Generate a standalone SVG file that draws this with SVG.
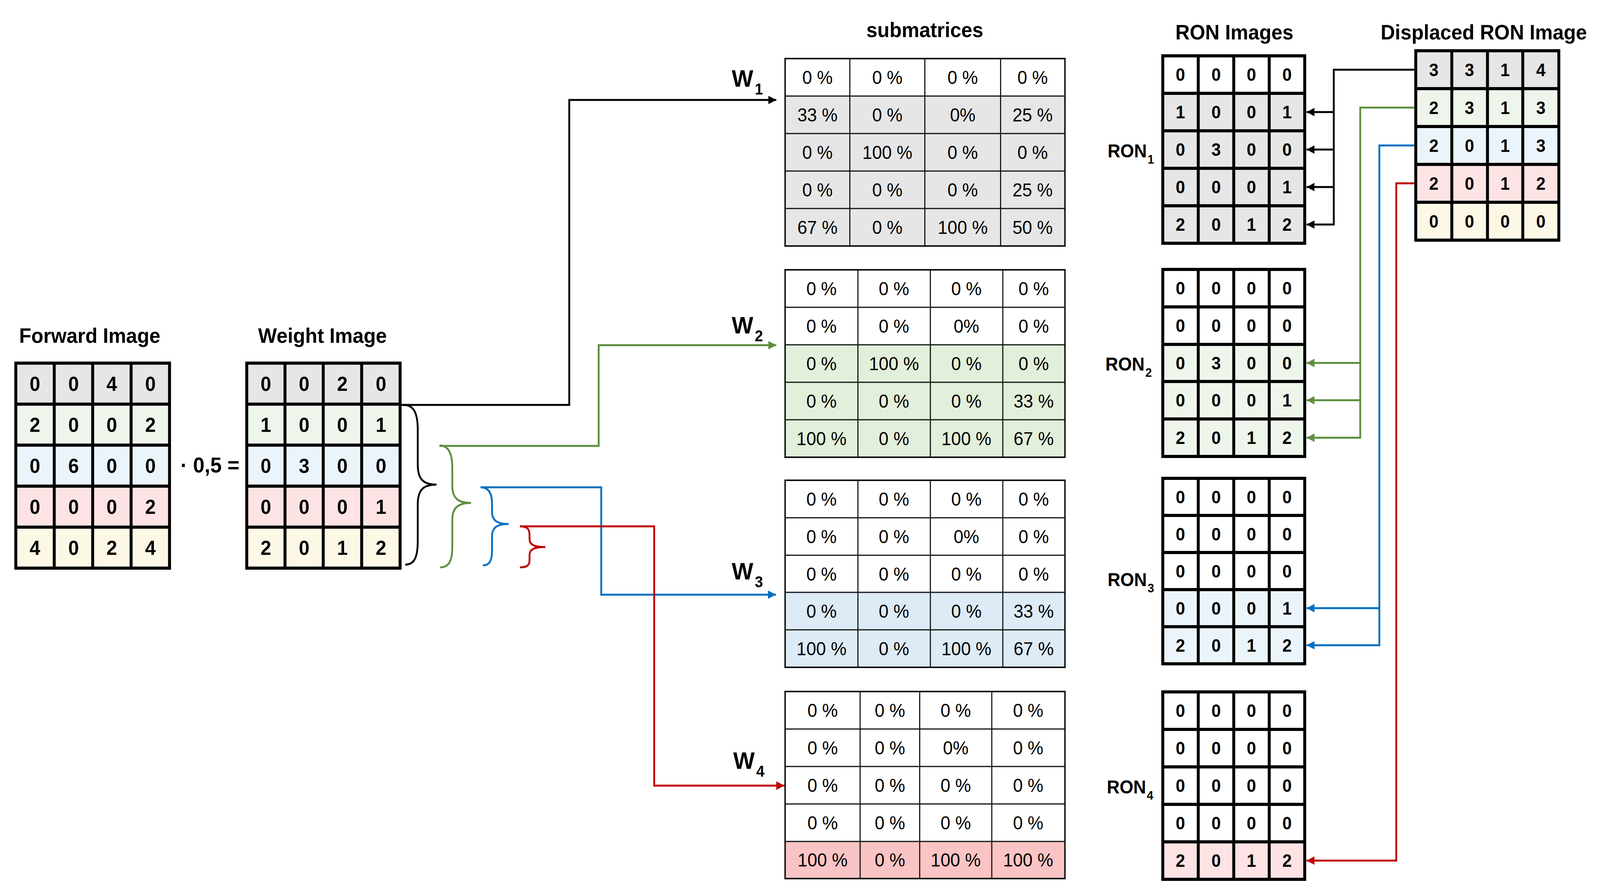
<svg xmlns="http://www.w3.org/2000/svg" width="4351" height="2287" viewBox="0 0 4351 2287" preserveAspectRatio="none" style="width:100%;height:100%;display:block">
<style>
text{font-family:"Liberation Sans",Arial,sans-serif;fill:#000}
.ttl{font-weight:bold;font-size:54px;text-anchor:middle}
.d{font-weight:bold;font-size:52px;text-anchor:middle}
.dr{font-weight:bold;font-size:46px;text-anchor:middle}
.p{font-size:48px;text-anchor:middle}
.lab{font-weight:bold;font-size:48px}
.sub{font-size:32px}
.w{font-weight:bold;font-size:62px}
.ws{font-weight:bold;font-size:40px}
.gl{fill:none;stroke:#000;stroke-width:8}
.tl{fill:none;stroke:#111;stroke-width:3}
.to{fill:none;stroke:#111;stroke-width:4}
.gray{fill:#e6e6e6}.grn{fill:#eef6ec}.blu{fill:#ecf4fb}.pnk{fill:#fde3e4}.yel{fill:#fdf7e6}
.sgrn{fill:#e2efda}.sblu{fill:#ddebf7}.spnk{fill:#fbc4c4}
.ck{fill:none;stroke:#000;stroke-width:5}
.cg{fill:none;stroke:#5e8e3e;stroke-width:5}
.cb{fill:none;stroke:#0070c0;stroke-width:5}
.cr{fill:none;stroke:#c00000;stroke-width:5}
</style>
<defs>
<marker id="ak" markerUnits="userSpaceOnUse" markerWidth="22" markerHeight="22" refX="22" refY="11" orient="auto" viewBox="0 0 22 22"><path d="M0,0L22,11L0,22z" fill="#000"/></marker>
<marker id="ag" markerUnits="userSpaceOnUse" markerWidth="22" markerHeight="22" refX="22" refY="11" orient="auto" viewBox="0 0 22 22"><path d="M0,0L22,11L0,22z" fill="#5e8e3e"/></marker>
<marker id="ab" markerUnits="userSpaceOnUse" markerWidth="22" markerHeight="22" refX="22" refY="11" orient="auto" viewBox="0 0 22 22"><path d="M0,0L22,11L0,22z" fill="#0070c0"/></marker>
<marker id="ar" markerUnits="userSpaceOnUse" markerWidth="22" markerHeight="22" refX="22" refY="11" orient="auto" viewBox="0 0 22 22"><path d="M0,0L22,11L0,22z" fill="#c00000"/></marker>
</defs>
<rect width="4351" height="2287" fill="#fff"/>

<g id="titles">
<text class="ttl" x="244" y="878">Forward Image</text>
<text class="ttl" x="877" y="878">Weight Image</text>
<text class="ttl" x="2515" y="95">submatrices</text>
<text class="ttl" x="3357" y="101">RON Images</text>
<text class="ttl" x="4035" y="101">Displaced RON Image</text>
<text class="d" x="571" y="1210" style="font-size:56px">· 0,5 =</text>
</g>

<g id="forward-image">
<rect class="gray" x="43" y="930" width="418" height="105"/>
<rect class="grn" x="43" y="1035" width="418" height="105"/>
<rect class="blu" x="43" y="1140" width="418" height="105"/>
<rect class="pnk" x="43" y="1245" width="418" height="105"/>
<rect class="yel" x="43" y="1350" width="418" height="105"/>
<path class="gl" d="M43,930H461V1455H43Z M147.5,930V1455 M252,930V1455 M356.5,930V1455 M43,1035H461 M43,1140H461 M43,1245H461 M43,1350H461"/>
<text class="d" x="95" y="1001">0</text><text class="d" x="200" y="1001">0</text><text class="d" x="304" y="1001">4</text><text class="d" x="409" y="1001">0</text>
<text class="d" x="95" y="1106">2</text><text class="d" x="200" y="1106">0</text><text class="d" x="304" y="1106">0</text><text class="d" x="409" y="1106">2</text>
<text class="d" x="95" y="1211">0</text><text class="d" x="200" y="1211">6</text><text class="d" x="304" y="1211">0</text><text class="d" x="409" y="1211">0</text>
<text class="d" x="95" y="1316">0</text><text class="d" x="200" y="1316">0</text><text class="d" x="304" y="1316">0</text><text class="d" x="409" y="1316">2</text>
<text class="d" x="95" y="1421">4</text><text class="d" x="200" y="1421">0</text><text class="d" x="304" y="1421">2</text><text class="d" x="409" y="1421">4</text>
</g>

<g id="weight-image">
<rect class="gray" x="671" y="930" width="417" height="105"/>
<rect class="grn" x="671" y="1035" width="417" height="105"/>
<rect class="blu" x="671" y="1140" width="417" height="105"/>
<rect class="pnk" x="671" y="1245" width="417" height="105"/>
<rect class="yel" x="671" y="1350" width="417" height="105"/>
<path class="gl" d="M671,930H1088V1455H671Z M775,930V1455 M879,930V1455 M983.5,930V1455 M671,1035H1088 M671,1140H1088 M671,1245H1088 M671,1350H1088"/>
<text class="d" x="723" y="1001">0</text><text class="d" x="827" y="1001">0</text><text class="d" x="931" y="1001">2</text><text class="d" x="1036" y="1001">0</text>
<text class="d" x="723" y="1106">1</text><text class="d" x="827" y="1106">0</text><text class="d" x="931" y="1106">0</text><text class="d" x="1036" y="1106">1</text>
<text class="d" x="723" y="1211">0</text><text class="d" x="827" y="1211">3</text><text class="d" x="931" y="1211">0</text><text class="d" x="1036" y="1211">0</text>
<text class="d" x="723" y="1316">0</text><text class="d" x="827" y="1316">0</text><text class="d" x="931" y="1316">0</text><text class="d" x="1036" y="1316">1</text>
<text class="d" x="723" y="1421">2</text><text class="d" x="827" y="1421">0</text><text class="d" x="931" y="1421">1</text><text class="d" x="1036" y="1421">2</text>
</g>

<g id="braces">
<path class="ck" d="M1098,1037 C1126,1037 1136,1060 1136,1100 V1190 C1136,1228 1152,1241 1187,1241 C1152,1241 1136,1254 1136,1292 V1386 C1136,1428 1126,1446 1102,1446"/>
<path class="cg" d="M1195,1141 C1222,1141 1230,1165 1230,1200 V1245 C1230,1275 1245,1288 1281,1288 C1245,1288 1230,1301 1230,1331 V1400 C1230,1438 1220,1453 1197,1453"/>
<path class="cb" d="M1307,1248 C1330,1248 1338,1265 1338,1290 V1310 C1338,1332 1350,1342 1383,1342 C1350,1342 1338,1352 1338,1374 V1410 C1338,1438 1330,1448 1313,1448"/>
<path class="cr" d="M1414,1348 C1434,1348 1440,1355 1440,1370 V1380 C1440,1394 1450,1401 1483,1401 C1450,1401 1440,1408 1440,1422 V1435 C1440,1448 1432,1453 1414,1453"/>
</g>

<g id="sub-w1">
<text class="w" x="1990" y="222">W<tspan class="ws" dx="4" dy="20">1</tspan></text>
<rect class="gray" x="2135" y="246" width="761" height="384"/>
<path class="tl" d="M2311,150V630 M2515,150V630 M2721,150V630 M2135,246H2896 M2135,342H2896 M2135,438H2896 M2135,534H2896"/>
<path class="to" d="M2135,150H2896V630H2135Z"/>
<text class="p" x="2223" y="215">0 %</text><text class="p" x="2413" y="215">0 %</text><text class="p" x="2618" y="215">0 %</text><text class="p" x="2808" y="215">0 %</text>
<text class="p" x="2223" y="311">33 %</text><text class="p" x="2413" y="311">0 %</text><text class="p" x="2618" y="311">0%</text><text class="p" x="2808" y="311">25 %</text>
<text class="p" x="2223" y="407">0 %</text><text class="p" x="2413" y="407">100 %</text><text class="p" x="2618" y="407">0 %</text><text class="p" x="2808" y="407">0 %</text>
<text class="p" x="2223" y="503">0 %</text><text class="p" x="2413" y="503">0 %</text><text class="p" x="2618" y="503">0 %</text><text class="p" x="2808" y="503">25 %</text>
<text class="p" x="2223" y="599">67 %</text><text class="p" x="2413" y="599">0 %</text><text class="p" x="2618" y="599">100 %</text><text class="p" x="2808" y="599">50 %</text>
</g>

<g id="sub-w2">
<text class="w" x="1990" y="854">W<tspan class="ws" dx="4" dy="20">2</tspan></text>
<rect class="sgrn" x="2135" y="883" width="761" height="288"/>
<path class="tl" d="M2333,691V1171 M2530,691V1171 M2727,691V1171 M2135,787H2896 M2135,883H2896 M2135,979H2896 M2135,1075H2896"/>
<path class="to" d="M2135,691H2896V1171H2135Z"/>
<text class="p" x="2234" y="756">0 %</text><text class="p" x="2431" y="756">0 %</text><text class="p" x="2628" y="756">0 %</text><text class="p" x="2811" y="756">0 %</text>
<text class="p" x="2234" y="852">0 %</text><text class="p" x="2431" y="852">0 %</text><text class="p" x="2628" y="852">0%</text><text class="p" x="2811" y="852">0 %</text>
<text class="p" x="2234" y="948">0 %</text><text class="p" x="2431" y="948">100 %</text><text class="p" x="2628" y="948">0 %</text><text class="p" x="2811" y="948">0 %</text>
<text class="p" x="2234" y="1044">0 %</text><text class="p" x="2431" y="1044">0 %</text><text class="p" x="2628" y="1044">0 %</text><text class="p" x="2811" y="1044">33 %</text>
<text class="p" x="2234" y="1140">100 %</text><text class="p" x="2431" y="1140">0 %</text><text class="p" x="2628" y="1140">100 %</text><text class="p" x="2811" y="1140">67 %</text>
</g>

<g id="sub-w3">
<text class="w" x="1990" y="1484">W<tspan class="ws" dx="4" dy="20">3</tspan></text>
<rect class="sblu" x="2135" y="1517" width="761" height="192"/>
<path class="tl" d="M2333,1230V1709 M2530,1230V1709 M2727,1230V1709 M2135,1326H2896 M2135,1422H2896 M2135,1517H2896 M2135,1613H2896"/>
<path class="to" d="M2135,1230H2896V1709H2135Z"/>
<text class="p" x="2234" y="1295">0 %</text><text class="p" x="2431" y="1295">0 %</text><text class="p" x="2628" y="1295">0 %</text><text class="p" x="2811" y="1295">0 %</text>
<text class="p" x="2234" y="1391">0 %</text><text class="p" x="2431" y="1391">0 %</text><text class="p" x="2628" y="1391">0%</text><text class="p" x="2811" y="1391">0 %</text>
<text class="p" x="2234" y="1487">0 %</text><text class="p" x="2431" y="1487">0 %</text><text class="p" x="2628" y="1487">0 %</text><text class="p" x="2811" y="1487">0 %</text>
<text class="p" x="2234" y="1582">0 %</text><text class="p" x="2431" y="1582">0 %</text><text class="p" x="2628" y="1582">0 %</text><text class="p" x="2811" y="1582">33 %</text>
<text class="p" x="2234" y="1678">100 %</text><text class="p" x="2431" y="1678">0 %</text><text class="p" x="2628" y="1678">100 %</text><text class="p" x="2811" y="1678">67 %</text>
</g>

<g id="sub-w4">
<text class="w" x="1994" y="1969">W<tspan class="ws" dx="4" dy="20">4</tspan></text>
<rect class="spnk" x="2135" y="2155" width="761" height="95"/>
<path class="tl" d="M2339,1771V2250 M2501,1771V2250 M2697,1771V2250 M2135,1867H2896 M2135,1963H2896 M2135,2059H2896 M2135,2155H2896"/>
<path class="to" d="M2135,1771H2896V2250H2135Z"/>
<text class="p" x="2237" y="1836">0 %</text><text class="p" x="2420" y="1836">0 %</text><text class="p" x="2599" y="1836">0 %</text><text class="p" x="2796" y="1836">0 %</text>
<text class="p" x="2237" y="1932">0 %</text><text class="p" x="2420" y="1932">0 %</text><text class="p" x="2599" y="1932">0%</text><text class="p" x="2796" y="1932">0 %</text>
<text class="p" x="2237" y="2028">0 %</text><text class="p" x="2420" y="2028">0 %</text><text class="p" x="2599" y="2028">0 %</text><text class="p" x="2796" y="2028">0 %</text>
<text class="p" x="2237" y="2124">0 %</text><text class="p" x="2420" y="2124">0 %</text><text class="p" x="2599" y="2124">0 %</text><text class="p" x="2796" y="2124">0 %</text>
<text class="p" x="2237" y="2219">100 %</text><text class="p" x="2420" y="2219">0 %</text><text class="p" x="2599" y="2219">100 %</text><text class="p" x="2796" y="2219">100 %</text>
</g>

<g id="ron1">
<text class="lab" x="3012" y="403">RON<tspan class="sub" dx="2" dy="16">1</tspan></text>
<rect class="gray" x="3162" y="239" width="386" height="384"/>
<path class="gl" d="M3162,143H3548V623H3162Z M3258.5,143V623 M3355,143V623 M3451.5,143V623 M3162,239H3548 M3162,335H3548 M3162,431H3548 M3162,527H3548"/>
<text class="dr" x="3210" y="207">0</text><text class="dr" x="3307" y="207">0</text><text class="dr" x="3403" y="207">0</text><text class="dr" x="3500" y="207">0</text>
<text class="dr" x="3210" y="303">1</text><text class="dr" x="3307" y="303">0</text><text class="dr" x="3403" y="303">0</text><text class="dr" x="3500" y="303">1</text>
<text class="dr" x="3210" y="399">0</text><text class="dr" x="3307" y="399">3</text><text class="dr" x="3403" y="399">0</text><text class="dr" x="3500" y="399">0</text>
<text class="dr" x="3210" y="495">0</text><text class="dr" x="3307" y="495">0</text><text class="dr" x="3403" y="495">0</text><text class="dr" x="3500" y="495">1</text>
<text class="dr" x="3210" y="591">2</text><text class="dr" x="3307" y="591">0</text><text class="dr" x="3403" y="591">1</text><text class="dr" x="3500" y="591">2</text>
</g>

<g id="ron2">
<text class="lab" x="3006" y="949">RON<tspan class="sub" dx="2" dy="16">2</tspan></text>
<rect class="grn" x="3162" y="882" width="386" height="287"/>
<path class="gl" d="M3162,690H3548V1169H3162Z M3258.5,690V1169 M3355,690V1169 M3451.5,690V1169 M3162,786H3548 M3162,882H3548 M3162,977H3548 M3162,1073H3548"/>
<text class="dr" x="3210" y="754">0</text><text class="dr" x="3307" y="754">0</text><text class="dr" x="3403" y="754">0</text><text class="dr" x="3500" y="754">0</text>
<text class="dr" x="3210" y="850">0</text><text class="dr" x="3307" y="850">0</text><text class="dr" x="3403" y="850">0</text><text class="dr" x="3500" y="850">0</text>
<text class="dr" x="3210" y="946">0</text><text class="dr" x="3307" y="946">3</text><text class="dr" x="3403" y="946">0</text><text class="dr" x="3500" y="946">0</text>
<text class="dr" x="3210" y="1041">0</text><text class="dr" x="3307" y="1041">0</text><text class="dr" x="3403" y="1041">0</text><text class="dr" x="3500" y="1041">1</text>
<text class="dr" x="3210" y="1137">2</text><text class="dr" x="3307" y="1137">0</text><text class="dr" x="3403" y="1137">1</text><text class="dr" x="3500" y="1137">2</text>
</g>

<g id="ron3">
<text class="lab" x="3012" y="1501">RON<tspan class="sub" dx="2" dy="16">3</tspan></text>
<rect class="blu" x="3162" y="1510" width="386" height="190"/>
<path class="gl" d="M3162,1225H3548V1700H3162Z M3258.5,1225V1700 M3355,1225V1700 M3451.5,1225V1700 M3162,1320H3548 M3162,1415H3548 M3162,1510H3548 M3162,1605H3548"/>
<text class="dr" x="3210" y="1289">0</text><text class="dr" x="3307" y="1289">0</text><text class="dr" x="3403" y="1289">0</text><text class="dr" x="3500" y="1289">0</text>
<text class="dr" x="3210" y="1384">0</text><text class="dr" x="3307" y="1384">0</text><text class="dr" x="3403" y="1384">0</text><text class="dr" x="3500" y="1384">0</text>
<text class="dr" x="3210" y="1479">0</text><text class="dr" x="3307" y="1479">0</text><text class="dr" x="3403" y="1479">0</text><text class="dr" x="3500" y="1479">0</text>
<text class="dr" x="3210" y="1574">0</text><text class="dr" x="3307" y="1574">0</text><text class="dr" x="3403" y="1574">0</text><text class="dr" x="3500" y="1574">1</text>
<text class="dr" x="3210" y="1669">2</text><text class="dr" x="3307" y="1669">0</text><text class="dr" x="3403" y="1669">1</text><text class="dr" x="3500" y="1669">2</text>
</g>

<g id="ron4">
<text class="lab" x="3010" y="2032">RON<tspan class="sub" dx="2" dy="16">4</tspan></text>
<rect class="pnk" x="3162" y="2156" width="386" height="96"/>
<path class="gl" d="M3162,1772H3548V2252H3162Z M3258.5,1772V2252 M3355,1772V2252 M3451.5,1772V2252 M3162,1868H3548 M3162,1964H3548 M3162,2060H3548 M3162,2156H3548"/>
<text class="dr" x="3210" y="1836">0</text><text class="dr" x="3307" y="1836">0</text><text class="dr" x="3403" y="1836">0</text><text class="dr" x="3500" y="1836">0</text>
<text class="dr" x="3210" y="1932">0</text><text class="dr" x="3307" y="1932">0</text><text class="dr" x="3403" y="1932">0</text><text class="dr" x="3500" y="1932">0</text>
<text class="dr" x="3210" y="2028">0</text><text class="dr" x="3307" y="2028">0</text><text class="dr" x="3403" y="2028">0</text><text class="dr" x="3500" y="2028">0</text>
<text class="dr" x="3210" y="2124">0</text><text class="dr" x="3307" y="2124">0</text><text class="dr" x="3403" y="2124">0</text><text class="dr" x="3500" y="2124">0</text>
<text class="dr" x="3210" y="2220">2</text><text class="dr" x="3307" y="2220">0</text><text class="dr" x="3403" y="2220">1</text><text class="dr" x="3500" y="2220">2</text>
</g>

<g id="displaced-ron">
<rect class="gray" x="3850" y="130" width="389" height="97"/>
<rect class="grn" x="3850" y="227" width="389" height="97"/>
<rect class="blu" x="3850" y="324" width="389" height="97"/>
<rect class="pnk" x="3850" y="421" width="389" height="97"/>
<rect class="yel" x="3850" y="518" width="389" height="97"/>
<path class="gl" d="M3850,130H4239V615H3850Z M3948,130V615 M4045,130V615 M4141,130V615 M3850,227H4239 M3850,324H4239 M3850,421H4239 M3850,518H4239"/>
<text class="dr" x="3899" y="195">3</text><text class="dr" x="3996" y="195">3</text><text class="dr" x="4093" y="195">1</text><text class="dr" x="4190" y="195">4</text>
<text class="dr" x="3899" y="292">2</text><text class="dr" x="3996" y="292">3</text><text class="dr" x="4093" y="292">1</text><text class="dr" x="4190" y="292">3</text>
<text class="dr" x="3899" y="389">2</text><text class="dr" x="3996" y="389">0</text><text class="dr" x="4093" y="389">1</text><text class="dr" x="4190" y="389">3</text>
<text class="dr" x="3899" y="486">2</text><text class="dr" x="3996" y="486">0</text><text class="dr" x="4093" y="486">1</text><text class="dr" x="4190" y="486">2</text>
<text class="dr" x="3899" y="583">0</text><text class="dr" x="3996" y="583">0</text><text class="dr" x="4093" y="583">0</text><text class="dr" x="4190" y="583">0</text>
</g>

<g id="connectors">
<path class="ck" d="M1092,1037H1548V256H2111" marker-end="url(#ak)"/>
<path class="cg" d="M1195,1142H1628V884H2111" marker-end="url(#ag)"/>
<path class="cb" d="M1307,1248H1635V1523H2110" marker-end="url(#ab)"/>
<path class="cr" d="M1414,1348H1779V2012H2133" marker-end="url(#ar)"/>

<path class="ck" d="M3846,178.5H3627V575H3553" marker-end="url(#ak)"/>
<path class="ck" d="M3627,287H3553" marker-end="url(#ak)"/>
<path class="ck" d="M3627,383H3553" marker-end="url(#ak)"/>
<path class="ck" d="M3627,479H3553" marker-end="url(#ak)"/>

<path class="cg" d="M3846,275.5H3699V1121H3553" marker-end="url(#ag)"/>
<path class="cg" d="M3699,929.5H3553" marker-end="url(#ag)"/>
<path class="cg" d="M3699,1025H3553" marker-end="url(#ag)"/>

<path class="cb" d="M3846,372.5H3751V1652.5H3553" marker-end="url(#ab)"/>
<path class="cb" d="M3751,1557.5H3553" marker-end="url(#ab)"/>

<path class="cr" d="M3846,469.5H3797V2204H3553" marker-end="url(#ar)"/>
</g>
</svg>
